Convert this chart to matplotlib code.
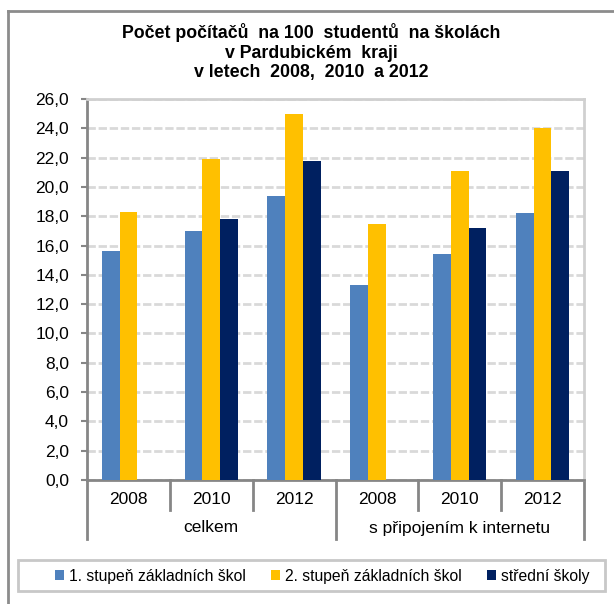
import numpy as np
import matplotlib
matplotlib.use("Agg")
from matplotlib import pyplot as plt
from matplotlib.lines import Line2D
from matplotlib.patches import Rectangle
import matplotlib.transforms as mtrans

years = ['2008', '2010', '2012', '2008', '2010', '2012']
groups = ['celkem', 's připojením k internetu']
series = ['1. stupeň základních škol', '2. stupeň základních škol', 'střední školy']
zs1 = [15.6, 17.0, 19.4, 13.3, 15.4, 18.2]
zs2 = [18.3, 21.9, 25.0, 17.5, 21.1, 24.0]
ss = [np.nan, 17.8, 21.8, np.nan, 17.2, 21.1]
colors = ['#4F81BD', '#FFC000', '#002060']

plt.rcParams['font.family'] = ['Liberation Sans', 'DejaVu Sans']

fig = plt.figure(figsize=(6.14, 6.04), dpi=100)
ax = fig.add_axes([87/614, 1-480/604, (584-87)/614, (480-99)/604])

x = np.arange(len(years))
w = 0.215
for i, (vals, c, lab) in enumerate(zip([zs1, zs2, ss], colors, series)):
    ax.bar(x + (i-1)*w, vals, w, color=c, label=lab, zorder=3)

ax.set_xlim(-0.5, 5.5)
ax.set_ylim(0, 26)
ax.set_yticks(np.arange(0, 27, 2))
ax.yaxis.set_major_formatter(plt.FuncFormatter(lambda v, p: ('%.1f' % v).replace('.', ',')))
ax.tick_params(axis='y', labelsize=12.5, length=4, width=1.5, color='#868686', pad=9)
ax.set_xticks([])
ax.grid(axis='y', color='#D9D9D9', linestyle=(0, (3, 1)), linewidth=2, zorder=0)

for s in ['left', 'bottom']:
    ax.spines[s].set_color('#868686')
    ax.spines[s].set_linewidth(2)
for s in ['top', 'right']:
    ax.spines[s].set_color('#D0D0D0')
    ax.spines[s].set_linewidth(2)

# category axis below
tr = mtrans.blended_transform_factory(ax.transData, ax.transAxes)
h = 480 - 99
for b in [0.5, 1.5, 3.5, 4.5]:
    ax.add_line(Line2D([b, b], [0, -30/h], transform=tr, color='#868686', lw=2, clip_on=False))
for b in [-0.5, 2.5, 5.5]:
    ax.add_line(Line2D([b, b], [0, -59/h], transform=tr, color='#868686', lw=2, clip_on=False))
for xi, yr in zip(x, years):
    ax.text(xi, -20/h, yr, transform=tr, ha='center', va='center', fontsize=12.5)
for gi, g in enumerate(groups):
    ax.text(1 + 3*gi, -48/h, g, transform=tr, ha='center', va='center', fontsize=12.5)

fig.text(311/614, 1-52/604, 'Počet počítačů  na 100  studentů  na školách\nv Pardubickém  kraji\nv letech  2008,  2010  a 2012',
         ha='center', va='center', fontsize=12.8, fontweight='bold', linespacing=1.2)

# outer frame
fig.add_artist(Line2D([8/614, 8/614], [0, 1-11/604], transform=fig.transFigure, color='#8C8C8C', lw=2))
fig.add_artist(Line2D([8/614, 1], [1-11/604, 1-11/604], transform=fig.transFigure, color='#8C8C8C', lw=2))

# legend box
fig.add_artist(Rectangle((18/614, 1-591/604), (605-18)/614, 31/604, transform=fig.transFigure,
                         fill=False, edgecolor='#C8C8C8', lw=2))
leg = fig.legend(loc='center', bbox_to_anchor=(322/614, 1-576/604), ncol=3, frameon=False,
                 fontsize=11.3, handlelength=0.6, handleheight=0.6, handletextpad=0.3, columnspacing=1.6)

fig.savefig('out.png', dpi=100)
